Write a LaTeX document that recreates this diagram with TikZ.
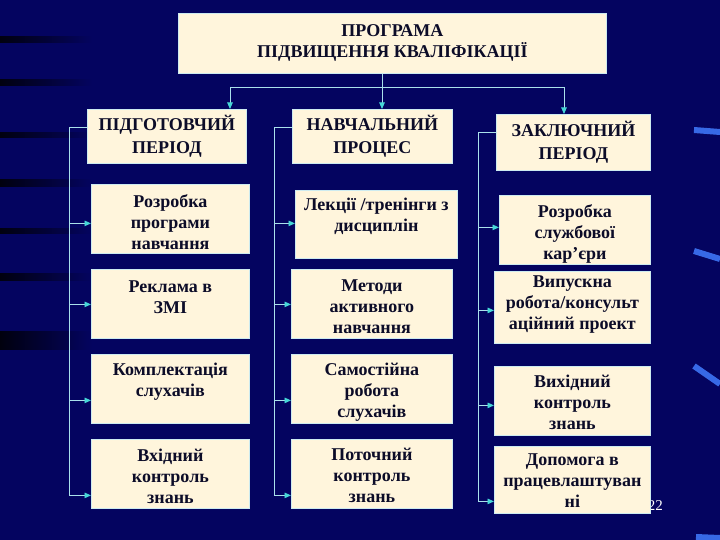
\documentclass[tikz,border=0pt]{standalone}
\usepackage{fontspec}
\setmainfont{Liberation Serif}
\usetikzlibrary{positioning,arrows.meta}

\definecolor{navy}{RGB}{4,4,96}
\definecolor{cream}{RGB}{255,245,220}
\definecolor{rim}{RGB}{205,235,240}
\definecolor{wirec}{RGB}{170,225,235}
\definecolor{tipc}{RGB}{70,215,215}
\definecolor{ink}{RGB}{12,12,40}
\definecolor{glintc}{RGB}{55,105,230}

% width, height, gap to first baseline, text
\newcommand{\cell}[4]{\parbox[c][#2][t]{#1}{\centering\rule{0pt}{#3}#4}}

\begin{document}
\begin{tikzpicture}[x=1pt, y=-1pt,
    box/.style = {draw=rim, line width=0.8pt, fill=cream, inner sep=0pt, anchor=north west, text=ink},
    head/.style = {box, font=\fontsize{18}{23}\selectfont\bfseries},
    body/.style = {box, font=\fontsize{18}{21}\selectfont\bfseries},
    wire/.style = {draw=wirec, line width=0.9pt},
    tip/.style = {wire, -{Triangle[length=6.5pt, width=5.5pt, color=tipc]}},
    glint/.style = {draw=glintc, line width=6pt}]
    \useasboundingbox (0,0) rectangle (720,540);
    \fill[navy] (0,0) rectangle (720,540);
    % dark bands on the left
    \foreach \y/\h in {40/6, 83/6, 135/5, 183/7, 231/5, 277/7, 340/18}
        \shade[left color=black!85!navy, right color=navy] (0,{\y-\h/2}) rectangle (92,{\y+\h/2});
    % blue marks on the right
    \draw[glint] (694,130) -- (720,132);
    \draw[glint] (694,251) -- (720,259);
    \draw[glint] (694,366) -- (720,384);
    \draw[glint] (696,537) -- (720,538);
    \node[text=white, font=\fontsize{15}{15}\selectfont, anchor=east, inner sep=0pt] (pg) at (663,506) {22};

    \node[box, font=\fontsize{18}{21}\selectfont\bfseries] (title) at (178,13)
        {\cell{428pt}{60pt}{23pt}{ПРОГРАМА\\ПІДВИЩЕННЯ КВАЛІФІКАЦІЇ}};

    \node[head] (prep) at (87,109) {\cell{159pt}{54pt}{21pt}{ПІДГОТОВЧИЙ\\ПЕРІОД}};
    \node[body] (a1) at (91,184) {\cell{158pt}{69pt}{23pt}{Розробка\\програми\\навчання}};
    \node[body] (a2) at (91,269) {\cell{158pt}{69pt}{23pt}{Реклама в\\ЗМІ}};
    \node[body] (a3) at (91,354) {\cell{158pt}{69pt}{21pt}{Комплектація\\слухачів}};
    \node[body] (a4) at (91,439) {\cell{158pt}{69pt}{22pt}{Вхідний\\контроль\\знань}};

    \node[head] (proc) at (292,109) {\cell{160pt}{54pt}{21pt}{НАВЧАЛЬНИЙ\\ПРОЦЕС}};
    \node[body] (b1) at (295,190) {\cell{162pt}{68pt}{20pt}{Лекції /тренінги з\\дисциплін}};
    \node[body] (b2) at (291,269) {\cell{161pt}{69pt}{22pt}{Методи\\активного\\навчання}};
    \node[body] (b3) at (291,354) {\cell{161pt}{69pt}{21pt}{Самостійна\\робота\\слухачів}};
    \node[body] (b4) at (291,439) {\cell{161pt}{69pt}{21pt}{Поточний\\контроль\\знань}};

    \node[head] (fin) at (496,114) {\cell{154pt}{56pt}{22pt}{ЗАКЛЮЧНИЙ\\ПЕРІОД}};
    \node[body] (c1) at (499,195) {\cell{151pt}{69pt}{22pt}{Розробка\\службової\\кар’єри}};
    \node[body] (c2) at (494,271) {\cell{156pt}{72pt}{16pt}{Випускна\\робота/консульт\\аційний проект}};
    \node[body] (c3) at (494,366) {\cell{156pt}{69pt}{21pt}{Вихідний\\контроль\\знань}};
    \node[body] (c4) at (494,446) {\cell{156pt}{67pt}{19pt}{Допомога в\\працевлаштуван\\ні}};

    % from the title to the three stages
    \coordinate (jn) at (382,87);
    \coordinate (busL) at (230,87);
    \coordinate (busR) at (564,87);
    \draw[wire] (title.south -| jn) -- (jn);
    \draw[wire] (busL) -- (busR);
    \draw[tip] (busL) -- (busL |- prep.north);
    \draw[tip] (jn) -- (jn |- proc.north);
    \draw[tip] (busR) -- (busR |- fin.north);

    % brackets down each column
    \coordinate (sA) at (69,495);
    \coordinate (sB) at (274,495);
    \coordinate (sC) at (478,501);
    \draw[wire] ([yshift=9pt]prep.west) -| (sA);
    \draw[wire] ([yshift=9pt]proc.west) -| (sB);
    \draw[wire] ([yshift=10pt]fin.west) -| (sC);
    \foreach \n/\dy in {a1/-4.5, a2/-0.5, a3/-11.5, a4/-21.5}
        \draw[tip] ([yshift=\dy pt]sA |- \n.west) -- ([yshift=\dy pt]\n.west);
    \foreach \n/\dy in {b1/1, b2/-0.5, b3/-11.5, b4/-21.5}
        \draw[tip] ([yshift=\dy pt]sB |- \n.west) -- ([yshift=\dy pt]\n.west);
    \foreach \n/\dy in {c1/2.5, c2/-3, c3/-4.5, c4/-21.5}
        \draw[tip] ([yshift=\dy pt]sC |- \n.west) -- ([yshift=\dy pt]\n.west);
\end{tikzpicture}
\end{document}
